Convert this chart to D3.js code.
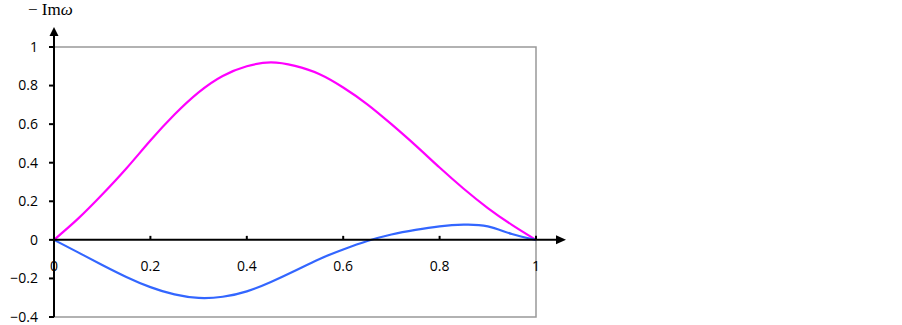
<!DOCTYPE html>
<html>
<head>
<meta charset="utf-8">
<script src="https://cdn.jsdelivr.net/npm/d3@7"></script>
<style>
  body { margin: 0; background: #fff; }
  .tick-label { font-family: "Open Sans", sans-serif; font-size: 14px; fill: #000; }
</style>
</head>
<body>
<div id="vis"></div>
<script>
var margin = {top: 47, right: 366, bottom: 8, left: 54},
    width = 902 - margin.left - margin.right,
    height = 325 - margin.top - margin.bottom;

// sample positions along the x axis
var xs = [0, 0.05, 0.1, 0.15, 0.2, 0.25, 0.3, 0.35, 0.4, 0.45, 0.5,
          0.55, 0.6, 0.65, 0.7, 0.75, 0.8, 0.85, 0.9, 0.95, 1];

// magenta curve
var upperValues = [0, 0.11, 0.235, 0.37, 0.515, 0.65, 0.765, 0.85, 0.9, 0.92, 0.902,
                   0.86, 0.79, 0.703, 0.60, 0.49, 0.375, 0.265, 0.165, 0.078, 0];

// blue curve
var lowerValues = [0, -0.065, -0.13, -0.192, -0.245, -0.283, -0.301, -0.295, -0.267, -0.218, -0.16,
                   -0.1, -0.05, -0.006, 0.028, 0.052, 0.07, 0.079, 0.07, 0.03, 0];

var xTicks = [0, 0.2, 0.4, 0.6, 0.8, 1];
var yTicks = [-0.4, -0.2, 0, 0.2, 0.4, 0.6, 0.8, 1];

var x = d3.scaleLinear().domain([0, 1]).range([0, width]);
var y = d3.scaleLinear().domain([-0.4, 1]).range([height, 0]);

var svg = d3.select("#vis").append("svg")
    .attr("width", 902)
    .attr("height", 325)
    .append("g")
    .attr("transform", "translate(" + margin.left + "," + margin.top + ")");

// gray plot frame
svg.append("rect")
    .attr("x", 0)
    .attr("y", 0)
    .attr("width", width)
    .attr("height", height)
    .attr("fill", "none")
    .attr("stroke", "#999")
    .attr("stroke-width", 1.5);

var line = d3.line()
    .x(function(d) { return x(d[0]); })
    .y(function(d) { return y(d[1]); })
    .curve(d3.curveNatural);

svg.append("path")
    .datum(xs.map(function(v, i) { return [v, upperValues[i]]; }))
    .attr("d", line)
    .attr("fill", "none")
    .attr("stroke", "#ff00ff")
    .attr("stroke-width", 2.2);

svg.append("path")
    .datum(xs.map(function(v, i) { return [v, lowerValues[i]]; }))
    .attr("d", line)
    .attr("fill", "none")
    .attr("stroke", "#3366ff")
    .attr("stroke-width", 2.2);

// y axis with arrow
svg.append("line")
    .attr("x1", 0).attr("x2", 0)
    .attr("y1", height).attr("y2", -12)
    .attr("stroke", "#000")
    .attr("stroke-width", 2);

svg.append("path")
    .attr("d", "M0," + (-20) + "L-4.5,-11L4.5,-11Z")
    .attr("fill", "#000");

// x axis with arrow
svg.append("line")
    .attr("x1", 0).attr("x2", width + 22)
    .attr("y1", y(0)).attr("y2", y(0))
    .attr("stroke", "#000")
    .attr("stroke-width", 2);

svg.append("path")
    .attr("d", "M" + (width + 30) + "," + y(0) + "L" + (width + 20) + "," + (y(0) - 4.5) + "L" + (width + 20) + "," + (y(0) + 4.5) + "Z")
    .attr("fill", "#000");

// y ticks
svg.selectAll(".ytick")
    .data(yTicks)
    .enter().append("line")
    .attr("x1", -5).attr("x2", 0)
    .attr("y1", function(d) { return y(d); })
    .attr("y2", function(d) { return y(d); })
    .attr("stroke", "#000")
    .attr("stroke-width", 2);

svg.selectAll(".ylabel")
    .data(yTicks)
    .enter().append("text")
    .attr("class", "tick-label")
    .attr("x", -16)
    .attr("y", function(d) { return y(d); })
    .attr("dy", "0.35em")
    .style("text-anchor", "end")
    .text(function(d) { return d3.format("")(d); });

// x ticks (pointing up)
svg.selectAll(".xtick")
    .data(xTicks.slice(1))
    .enter().append("line")
    .attr("x1", function(d) { return x(d); })
    .attr("x2", function(d) { return x(d); })
    .attr("y1", y(0) - 4).attr("y2", y(0))
    .attr("stroke", "#000")
    .attr("stroke-width", 2);

svg.selectAll(".xlabel")
    .data(xTicks)
    .enter().append("text")
    .attr("class", "tick-label")
    .attr("x", function(d) { return x(d); })
    .attr("y", y(0) + 26)
    .attr("dy", "0.35em")
    .style("text-anchor", "middle")
    .text(function(d) { return d3.format("")(d); });

// axis title
var title = svg.append("text")
    .attr("x", -26)
    .attr("y", -32)
    .style("font-family", "'Liberation Serif', serif")
    .style("font-size", "17px");
title.append("tspan").text("\u2212 Im");
title.append("tspan").style("font-style", "italic").text("\u03c9");
</script>
</body>
</html>
